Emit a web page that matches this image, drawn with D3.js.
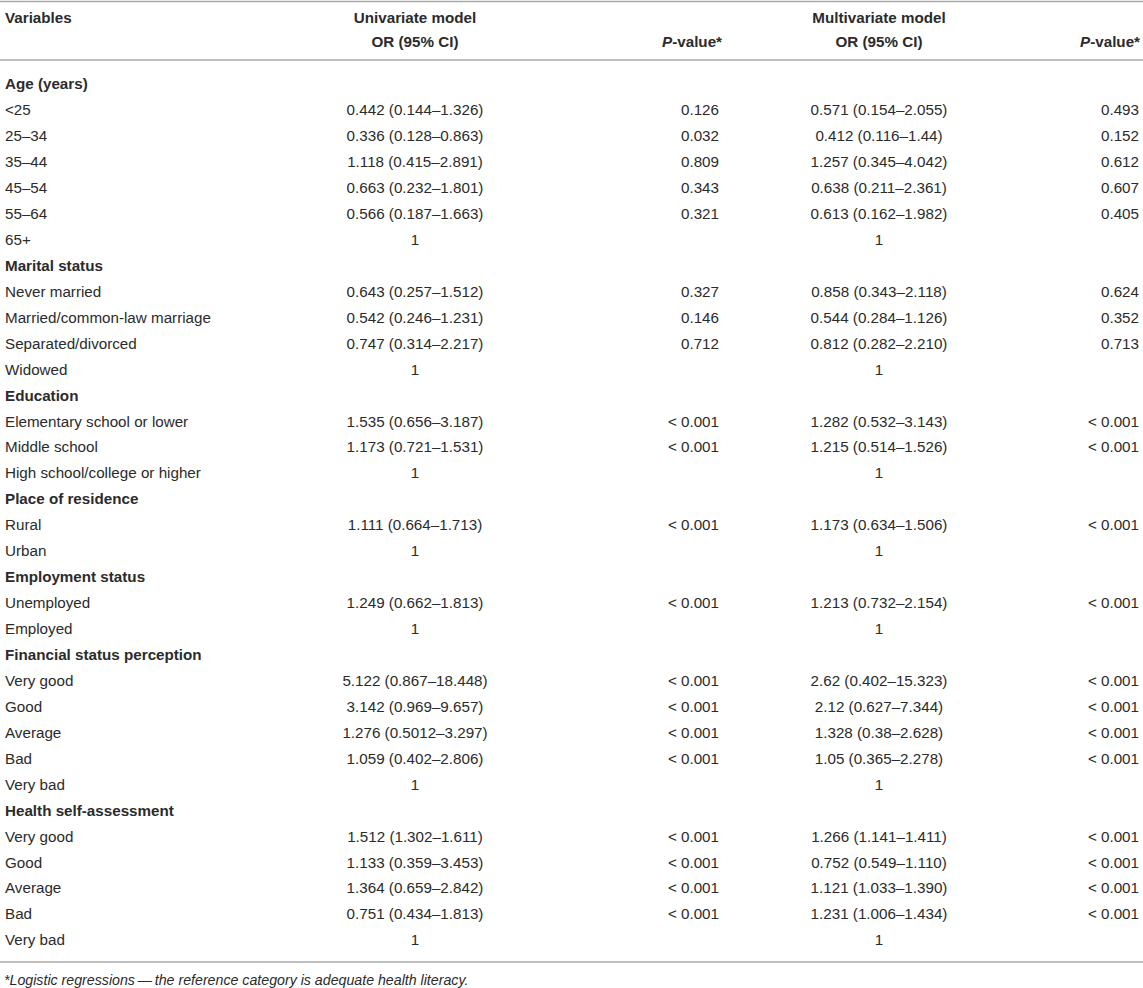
<!DOCTYPE html>
<html><head><meta charset="utf-8">
<script src="https://cdn.jsdelivr.net/npm/d3@7"></script>
<style>
html,body{margin:0;padding:0;background:#fff;}
svg text{font-family:"Liberation Sans",Arial,Helvetica,sans-serif;fill:#2b2b2b;}
</style></head>
<body><svg id="c" width="1143" height="988"></svg>
<script>
// ---- data ----
const headerVariables = "Variables";
const headerModels = ["Univariate model", "Multivariate model"];
const headerOR = "OR (95% CI)";
const headerP = "-value*";
const labels = [
 "Age (years)","<25","25–34","35–44","45–54","55–64","65+",
 "Marital status","Never married","Married/common-law marriage","Separated/divorced","Widowed",
 "Education","Elementary school or lower","Middle school","High school/college or higher",
 "Place of residence","Rural","Urban",
 "Employment status","Unemployed","Employed",
 "Financial status perception","Very good","Good","Average","Bad","Very bad",
 "Health self-assessment","Very good","Good","Average","Bad","Very bad"
];
const isGroup = [
 1,0,0,0,0,0,0,
 1,0,0,0,0,
 1,0,0,0,
 1,0,0,
 1,0,0,
 1,0,0,0,0,0,
 1,0,0,0,0,0
];
const uniOR = [
 "","0.442 (0.144–1.326)","0.336 (0.128–0.863)","1.118 (0.415–2.891)","0.663 (0.232–1.801)","0.566 (0.187–1.663)","1",
 "","0.643 (0.257–1.512)","0.542 (0.246–1.231)","0.747 (0.314–2.217)","1",
 "","1.535 (0.656–3.187)","1.173 (0.721–1.531)","1",
 "","1.111 (0.664–1.713)","1",
 "","1.249 (0.662–1.813)","1",
 "","5.122 (0.867–18.448)","3.142 (0.969–9.657)","1.276 (0.5012–3.297)","1.059 (0.402–2.806)","1",
 "","1.512 (1.302–1.611)","1.133 (0.359–3.453)","1.364 (0.659–2.842)","0.751 (0.434–1.813)","1"
];
const uniP = [
 "","0.126","0.032","0.809","0.343","0.321","",
 "","0.327","0.146","0.712","",
 "","< 0.001","< 0.001","",
 "","< 0.001","",
 "","< 0.001","",
 "","< 0.001","< 0.001","< 0.001","< 0.001","",
 "","< 0.001","< 0.001","< 0.001","< 0.001",""
];
const multiOR = [
 "","0.571 (0.154–2.055)","0.412 (0.116–1.44)","1.257 (0.345–4.042)","0.638 (0.211–2.361)","0.613 (0.162–1.982)","1",
 "","0.858 (0.343–2.118)","0.544 (0.284–1.126)","0.812 (0.282–2.210)","1",
 "","1.282 (0.532–3.143)","1.215 (0.514–1.526)","1",
 "","1.173 (0.634–1.506)","1",
 "","1.213 (0.732–2.154)","1",
 "","2.62 (0.402–15.323)","2.12 (0.627–7.344)","1.328 (0.38–2.628)","1.05 (0.365–2.278)","1",
 "","1.266 (1.141–1.411)","0.752 (0.549–1.110)","1.121 (1.033–1.390)","1.231 (1.006–1.434)","1"
];
const multiP = [
 "","0.493","0.152","0.612","0.607","0.405","",
 "","0.624","0.352","0.713","",
 "","< 0.001","< 0.001","",
 "","< 0.001","",
 "","< 0.001","",
 "","< 0.001","< 0.001","< 0.001","< 0.001","",
 "","< 0.001","< 0.001","< 0.001","< 0.001",""
];
const footnote = "*Logistic regressions\u2009—\u2009the reference category is adequate health literacy.";

// ---- layout ----
const svg = d3.select("#c");
const FS = 15.2;
const y = d3.scalePoint().domain(d3.range(labels.length)).range([84, 940]);
const colX = {label:5, uniOR:415, uniP:719, multiOR:879, multiP:1139};
const lineColor = "#a9a9a9";

function hline(yy){
  svg.append("line").attr("x1",0).attr("x2",1143).attr("y1",yy).attr("y2",yy)
    .attr("stroke",lineColor).attr("stroke-width",1.6);
}
hline(1.5); hline(60); hline(962);

const hdr = svg.append("g").attr("font-weight","bold").attr("font-size",FS);
hdr.append("text").attr("x",colX.label).attr("y",18).attr("dy","0.35em").text(headerVariables);
[[colX.uniOR,headerModels[0]],[colX.multiOR,headerModels[1]]].forEach(([x,t])=>{
  hdr.append("text").attr("x",x).attr("y",18).attr("dy","0.35em").attr("text-anchor","middle").text(t);
  hdr.append("text").attr("x",x).attr("y",42).attr("dy","0.35em").attr("text-anchor","middle").text(headerOR);
});
[colX.uniP+3, colX.multiP+1].forEach(x=>{
  const t = hdr.append("text").attr("x",x).attr("y",42).attr("dy","0.35em").attr("text-anchor","end");
  t.append("tspan").attr("font-style","italic").text("P");
  t.append("tspan").text(headerP);
});

const rows = svg.append("g").attr("font-size",FS);
const idx = d3.range(labels.length);
rows.selectAll("text.lab").data(idx).join("text").attr("class","lab")
  .attr("x",colX.label).attr("y",i=>y(i)).attr("dy","0.35em")
  .attr("font-weight",i=>isGroup[i]?"bold":"normal").text(i=>labels[i]);
const cols = [[uniOR,colX.uniOR,"middle"],[uniP,colX.uniP,"end"],[multiOR,colX.multiOR,"middle"],[multiP,colX.multiP,"end"]];
cols.forEach(([arr,x,anc],k)=>{
  rows.selectAll("text.c"+k).data(idx.filter(i=>arr[i]!=="")).join("text").attr("class","c"+k)
    .attr("x",x).attr("y",i=>y(i)).attr("dy","0.35em").attr("text-anchor",anc).text(i=>arr[i]);
});

svg.append("text").attr("x",4).attr("y",980).attr("dy","0.35em")
  .attr("font-size",14.2).attr("font-style","italic").text(footnote);
</script></body></html>
